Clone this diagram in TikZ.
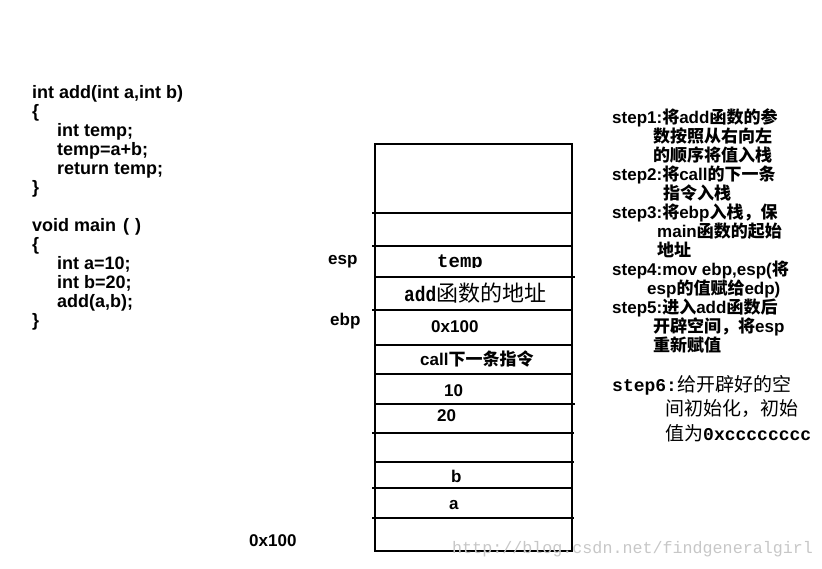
\documentclass[tikz,border=0pt]{standalone}
\usepackage{fontspec}
\setmainfont{Liberation Sans}
\newfontfamily\cjkfont{Noto Sans CJK SC}
\newfontfamily\monofont{Liberation Mono}
\newfontfamily\monocond{Liberation Mono}[FakeStretch=0.85]
\newcommand\cj[1]{{\cjkfont #1}}
\newcommand\fsz[1]{\fontsize{#1}{#1}\selectfont}
\begin{document}
\begin{tikzpicture}[x=1pt,y=-1pt,
  codeline/.style={anchor=base west,inner sep=0pt,font=\fsz{18}\bfseries},
  stepline/.style={anchor=base west,inner sep=0pt,font=\fsz{17}\bfseries},
  stepsix/.style={anchor=base west,inner sep=0pt,font=\monofont\fsz{18}\bfseries},
  celltext/.style={anchor=base west,inner sep=0pt,font=\fsz{17}\bfseries},
  stackline/.style={line width=2pt},
  reglabel/.style={anchor=base west,inner sep=0pt,font=\fsz{17}\bfseries}]
\useasboundingbox (0,0) rectangle (822,568);
% code
\node[codeline] (c0) at (32,98) {int add(int a,int b)};
\node[codeline] (c1) at (32,117) {\{};
\node[codeline] (c2) at (57,136) {int temp;};
\node[codeline] (c3) at (57,155) {temp=a+b;};
\node[codeline] (c4) at (57,174) {return temp;};
\node[codeline] (c5) at (32,193) {\}};
\node[codeline] (c7) at (32,231) {void main\hspace{7pt}(\hspace{6pt})};
\node[codeline] (c8) at (32,250) {\{};
\node[codeline] (c9) at (57,269) {int a=10;};
\node[codeline] (c10) at (57,288) {int b=20;};
\node[codeline] (c11) at (57,307) {add(a,b);};
\node[codeline] (c12) at (32,326) {\}};
% stack
\draw[stackline] (375,144) rectangle (572,551);
\foreach \yy/\xa/\xb in {212.7/372/572, 246/372/572, 276.7/375/575, 310/372/572,
  345/375/572, 374/375/573, 404.3/375/575, 433.3/372/574, 461.7/375/574,
  488.3/372/572, 517.7/372/574}
  \draw[stackline] (\xa,\yy) -- (\xb,\yy);
\begin{scope}
\clip (380,240) rectangle (560,267.5);
\node[anchor=base west,inner sep=0pt,font=\monofont\fsz{19}\bfseries] (tempc) at (437,267) {temp};
\end{scope}
\node[anchor=base west,inner sep=0pt,font=\monocond\fsz{21}\bfseries] (addr) at (404,301) {add\cj{\mdseries\fsz{22}函数的地址}};
\node[celltext] (oldebp) at (431,332) {0x100};
\node[celltext] (callnext) at (420,365) {call\cj{下一条指令}};
\node[celltext] (ten) at (444,396) {10};
\node[celltext] (twenty) at (437,421) {20};
\node[celltext] (bb) at (451,482) {b};
\node[celltext] (aa) at (449,509) {a};
% labels
\node[reglabel] (esp) at (328,264) {esp};
\node[reglabel] (ebp) at (330,325) {ebp};
\node[reglabel] (addr100) at (249,546) {0x100};
% steps
\node[stepline] (s1) at (612,123) {step1:\cj{将}add\cj{函数的参}};
\node[stepline] (s1b) at (653,142) {\cj{数按照从右向左}};
\node[stepline] (s1c) at (653,161) {\cj{的顺序将值入栈}};
\node[stepline] (s2) at (612,180) {step2:\cj{将}call\cj{的下一条}};
\node[stepline] (s2b) at (663,199) {\cj{指令入栈}};
\node[stepline] (s3) at (612,218) {step3:\cj{将}ebp\cj{入栈，保}};
\node[stepline] (s3b) at (657,237) {main\cj{函数的起始}};
\node[stepline] (s3c) at (657,256) {\cj{地址}};
\node[stepline] (s4) at (612,275) {step4:mov ebp,esp(\cj{将}};
\node[stepline] (s4b) at (647,294) {esp\cj{的值赋给}edp)};
\node[stepline] (s5) at (612,313) {step5:\cj{进入}add\cj{函数后}};
\node[stepline] (s5b) at (653,332) {\cj{开辟空间，将}esp};
\node[stepline] (s5c) at (653,351) {\cj{重新赋值}};
\node[stepsix] (s6) at (612,391) {step6:\cj{\mdseries\fsz{19}给开辟好的空}};
\node[stepsix] (s6b) at (665,415.5) {\cj{\mdseries\fsz{19}间初始化，初始}};
\node[stepsix] (s6c) at (665,440) {\cj{\mdseries\fsz{19}值为}0xcccccccc};
% watermark
\node[anchor=base west,inner sep=0pt,font=\monofont\fsz{16.7},text=black!22] (wm) at (452,553) {http://blog.csdn.net/findgeneralgirl};
\end{tikzpicture}
\end{document}
